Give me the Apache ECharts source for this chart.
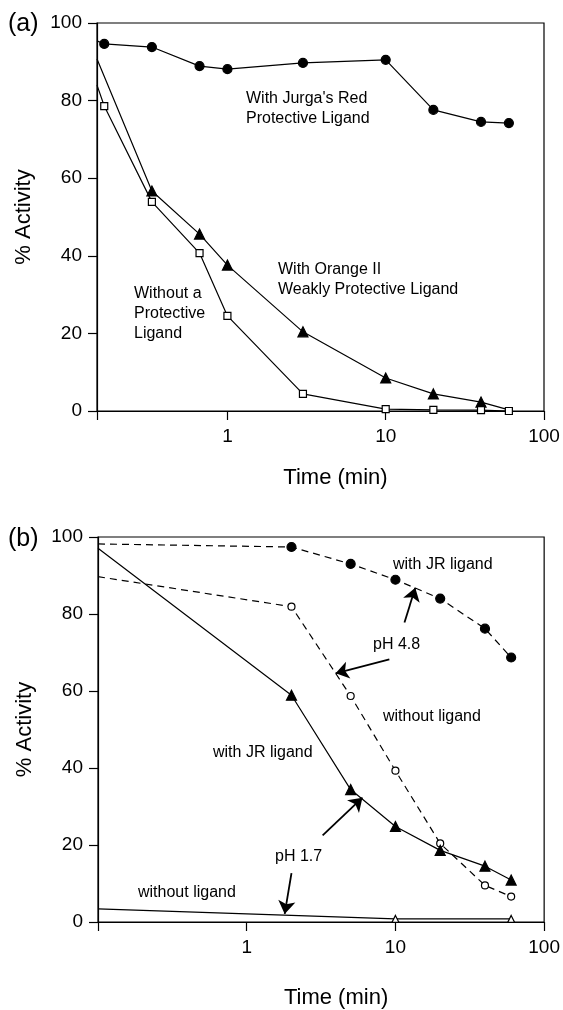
<!DOCTYPE html>
<html>
<head>
<meta charset="utf-8">
<script src="https://cdn.jsdelivr.net/npm/echarts@6/dist/echarts.min.js"></script>
<style>
  html, body { margin: 0; padding: 0; background: #fff; }
  #chart { width: 563px; height: 1010px; }
</style>
</head>
<body>
<div id="chart"></div>
<script>
// (a) panel data, time in minutes (first point = line start at the axis, no marker)
var timeA = [0.15, 1/6, 1/3, 2/3, 1, 3, 10, 20, 40, 60];
var jurgaRed = [95.4, 94.6, 93.8, 88.9, 88.1, 89.7, 90.5, 77.6, 74.5, 74.2];
var noLigandA = [84.0, 78.6, 53.9, 40.7, 24.5, 4.4, 0.5, 0.3, 0.2, 0.0];
var timeOrange = [0.15, 1/3, 2/3, 1, 3, 10, 20, 40, 60];
var orangeII = [90.7, 56.7, 45.6, 37.6, 20.4, 8.5, 4.4, 2.3, 0.3];

// (b) panel data
var timeB = [0.1, 2, 5, 10, 20, 40, 60];
var jrPH48 = [98.2, 97.4, 93.0, 88.9, 84.0, 76.2, 68.7];
var nonePH48 = [89.7, 81.9, 58.7, 39.3, 20.4, 9.5, 6.6];
var jrPH17 = [97.1, 58.9, 34.4, 24.8, 18.6, 14.5, 10.9];
var timeNone17 = [0.1, 10, 60];
var nonePH17 = [3.4, 0.8, 0.8];

// annotation arrows in data coords [from, to]
var arrows = [
    [[11.5, 77.8], [13.6, 86.8]],
    [[9.1, 68.2], [3.96, 64.6]],
    [[3.24, 22.5], [6.0, 32.3]],
    [[2.0, 12.7], [1.80, 2.1]]
];

var FONT = '"Liberation Sans", Arial, Helvetica, sans-serif';

function pts(xs, ys, hideLast) {
    return xs.map(function (x, i) {
        var item = { value: [x, ys[i]] };
        if (i === 0 || (hideLast && i === xs.length - 1)) item.symbol = 'none';
        return item;
    });
}

function lineSeries(idx, xs, ys, symbol, size, filled, dashed, hideLast) {
    return {
        type: 'line',
        xAxisIndex: idx,
        yAxisIndex: idx,
        data: pts(xs, ys, hideLast),
        symbol: symbol,
        symbolSize: size,
        showAllSymbol: true,
        lineStyle: { color: '#000', width: 1.2, type: dashed ? [7, 5] : 'solid' },
        itemStyle: { color: filled ? '#000' : '#fff', borderColor: '#000', borderWidth: 1.2 },
        silent: true
    };
}

function decadeLabel(v) {
    var l = Math.log10(v);
    if (v >= 1 && Math.abs(l - Math.round(l)) < 1e-6) return String(Math.round(v));
    return '';
}

function xAx(idx, min, gap) {
    return {
        type: 'log', gridIndex: idx, min: min, max: 100, logBase: 10,
        name: 'Time (min)', nameLocation: 'middle', nameGap: gap,
        nameTextStyle: { fontSize: 22, color: '#000', fontFamily: FONT, padding: [0, 0, 0, 30] },
        axisLine: { lineStyle: { color: '#000', width: 1.2 } },
        axisTick: { length: 9, lineStyle: { color: '#000', width: 1.2 } },
        axisLabel: { fontSize: 19, color: '#000', fontFamily: FONT, margin: 16, formatter: decadeLabel },
        splitLine: { show: false },
        minorTick: { show: false }
    };
}

function yAx(idx) {
    return {
        type: 'value', gridIndex: idx, min: 0, max: 100, interval: 20,
        name: '% Activity', nameLocation: 'middle', nameGap: 62,
        nameTextStyle: { fontSize: 22, color: '#000', fontFamily: FONT },
        axisLine: { show: true, lineStyle: { color: '#000', width: 1.2 } },
        axisTick: { show: true, length: 9, lineStyle: { color: '#000', width: 1.2 } },
        axisLabel: { fontSize: 19, color: '#000', fontFamily: FONT, margin: 15 },
        splitLine: { show: false }
    };
}

function txt(str, x, y) {
    return {
        type: 'text', x: x, y: y, silent: true,
        style: { text: str, fill: '#000', fontSize: 16, fontFamily: FONT, lineHeight: 20, verticalAlign: 'top' }
    };
}

var chart = echarts.init(document.getElementById('chart'));

var jrB = lineSeries(1, timeB, jrPH48, 'circle', 9, true, true);
jrB.markLine = {
    silent: true,
    symbol: ['none', 'arrow'],
    symbolSize: 13,
    label: { show: false },
    lineStyle: { color: '#000', width: 1.8, type: 'solid' },
    data: arrows.map(function (a) { return [{ coord: a[0] }, { coord: a[1] }]; })
};

chart.setOption({
    animation: false,
    backgroundColor: '#fff',
    grid: [
        { left: 97, top: 23, width: 447, height: 388, show: true, borderColor: '#000', borderWidth: 1.2 },
        { left: 98, top: 537, width: 447, height: 387, show: true, borderColor: '#000', borderWidth: 1.2 }
    ],
    xAxis: [xAx(0, 0.15, 56), xAx(1, 0.1, 65)],
    yAxis: [yAx(0), yAx(1)],
    series: [
        lineSeries(0, timeA, jurgaRed, 'circle', 9, true, false),
        lineSeries(0, timeOrange, orangeII, 'triangle', 10, true, false, true),
        lineSeries(0, timeA, noLigandA, 'rect', 7, false, false),
        jrB,
        lineSeries(1, timeB, nonePH48, 'circle', 7, false, true),
        lineSeries(1, timeB, jrPH17, 'triangle', 10, true, false),
        lineSeries(1, timeNone17, nonePH17, 'triangle', 7, false, false)
    ],
    graphic: [
        { type: 'text', x: 8, y: 12, silent: true, style: { text: '(a)', fill: '#000', fontSize: 25, fontFamily: FONT, verticalAlign: 'top' } },
        { type: 'text', x: 8, y: 527, silent: true, style: { text: '(b)', fill: '#000', fontSize: 25, fontFamily: FONT, verticalAlign: 'top' } },
        txt("With Jurga's Red\nProtective Ligand", 246, 89),
        txt('With Orange II\nWeakly Protective Ligand', 278, 260),
        txt('Without a\nProtective\nLigand', 134, 284),
        txt('with JR ligand', 393, 555),
        txt('pH 4.8', 373, 635),
        txt('without ligand', 383, 707),
        txt('with JR ligand', 213, 743),
        txt('pH 1.7', 275, 847),
        txt('without ligand', 138, 883)
    ]
});
</script>
</body>
</html>
